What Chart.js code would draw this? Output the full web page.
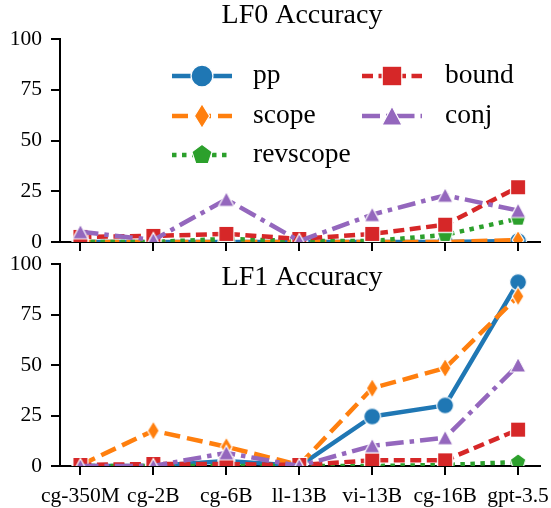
<!DOCTYPE html>
<html>
<head>
<meta charset="utf-8">
<script src="https://cdn.jsdelivr.net/npm/chart.js@4.4.0/dist/chart.umd.min.js"></script>
<style>
  body { margin: 0; background: #fff; font-family: "Liberation Serif", serif; }
  #wrap { position: relative; width: 551px; height: 508px; }
  canvas { position: absolute; left: 0; }
</style>
</head>
<body>
<div id="wrap">
  <canvas id="lf0" width="551" height="253" style="top:0"></canvas>
  <canvas id="lf1" width="551" height="255" style="top:253px"></canvas>
</div>
<script>
const models = ['cg-350M', 'cg-2B', 'cg-6B', 'll-13B', 'vi-13B', 'cg-16B', 'gpt-3.5'];
const yTicks = [0, 25, 50, 75, 100];
const seriesNames = ['pp', 'scope', 'revscope', 'bound', 'conj'];

// LF0 accuracy
const lf0Pp       = [0, 0, 0, 0, 0, 0, 0.5];
const lf0Scope    = [0, 0, 0, 0, 0, 0, 1];
const lf0Revscope = [0, 0, 1.5, 0.5, 0.5, 3.5, 11.5];
const lf0Bound    = [2.5, 3, 4, 1.5, 4, 8.5, 27];
const lf0Conj     = [5, 1, 21, 0.5, 13.5, 23, 15.5];

// LF1 accuracy
const lf1Pp       = [0, 0, 2.5, 0, 24.5, 30, 91];
const lf1Scope    = [0.5, 17.5, 9.5, 0.5, 38.5, 48.5, 84];
const lf1Revscope = [0, 0, 0, 0, 0, 0.5, 2];
const lf1Bound    = [0.5, 1, 1, 0.5, 2.8, 2.8, 18];
const lf1Conj     = [0, 0, 6.5, 0, 10, 14, 50];

const FONT = '"Liberation Serif", serif';

const styles = {
  pp:       { color: '#1f77b4', dash: [],            shape: 'circle' },
  scope:    { color: '#ff7f0e', dash: [16, 7],       shape: 'thinDiamond' },
  revscope: { color: '#2ca02c', dash: [4.5, 5.5],    shape: 'pentagon' },
  bound:    { color: '#d62728', dash: [11, 5.5],     shape: 'square' },
  conj:     { color: '#9467bd', dash: [18, 6, 4.5, 6], shape: 'triangle' }
};

function marker(shape, color, k) {
  const c = document.createElement('canvas');
  const size = Math.ceil(24 * k);
  c.width = c.height = size;
  const g = c.getContext('2d');
  const m = size / 2;
  g.beginPath();
  if (shape === 'circle') {
    g.arc(m, m, 7.8 * k, 0, Math.PI * 2);
  } else if (shape === 'thinDiamond') {
    g.moveTo(m, m - 8.8 * k); g.lineTo(m + 5.4 * k, m);
    g.lineTo(m, m + 8.8 * k); g.lineTo(m - 5.4 * k, m);
  } else if (shape === 'pentagon') {
    for (let i = 0; i < 5; i++) {
      const a = -Math.PI / 2 + i * 2 * Math.PI / 5;
      g.lineTo(m + Math.cos(a) * 7.6 * k, m + Math.sin(a) * 7.6 * k);
    }
  } else if (shape === 'square') {
    g.rect(m - 7 * k, m - 7 * k, 14 * k, 14 * k);
  } else if (shape === 'triangle') {
    g.moveTo(m, m - 7 * k); g.lineTo(m + 7.2 * k, m + 6.5 * k); g.lineTo(m - 7.2 * k, m + 6.5 * k);
  }
  g.closePath();
  g.fillStyle = color;
  g.fill();
  g.strokeStyle = '#fff';
  g.lineWidth = 1.2;
  g.stroke();
  return c;
}

function makeDatasets(values) {
  return seriesNames.map(function (name, i) {
    const st = styles[name];
    return {
      label: name,
      data: values[i].map(function (v, j) { return { x: j, y: v }; }),
      borderColor: st.color,
      backgroundColor: st.color,
      borderWidth: 4.5,
      borderDash: st.dash,
      borderCapStyle: 'butt',
      borderJoinStyle: 'round',
      pointStyle: marker(st.shape, st.color, 1.08),
      pointRadius: 6,
      order: seriesNames.length - i,
      clip: 0
    };
  });
}

const decor = {
  id: 'decor',
  afterDraw(chart, args, opts) {
    const ctx = chart.ctx;
    const area = chart.chartArea;
    ctx.save();
    ctx.fillStyle = '#000';
    ctx.font = '28px ' + FONT;
    ctx.textAlign = 'center';
    ctx.textBaseline = 'alphabetic';
    ctx.fillText(opts.title, (area.left + area.right) / 2 + 2, opts.titleY);

    if (opts.legend) {
      const colX = [172, 362];
      const textX = [253, 445];
      const rowY = [76, 116, 155];
      const place = [[0, 0], [0, 1], [0, 2], [1, 0], [1, 1]];
      ctx.textAlign = 'left';
      ctx.font = '27.5px ' + FONT;
      seriesNames.forEach(function (name, i) {
        const st = styles[name];
        const x0 = colX[place[i][0]];
        const y = rowY[place[i][1]];
        ctx.strokeStyle = st.color;
        ctx.lineWidth = 4.5;
        ctx.lineCap = 'butt';
        ctx.setLineDash(st.dash);
        ctx.beginPath();
        ctx.moveTo(x0, y);
        ctx.lineTo(x0 + 60, y);
        ctx.stroke();
        ctx.setLineDash([]);
        const img = marker(st.shape, st.color, 1.4);
        ctx.drawImage(img, x0 + 30 - img.width / 2, y - img.height / 2);
        ctx.fillStyle = '#000';
        ctx.fillText(name, textX[place[i][0]], y + 7);
      });
    }
    ctx.restore();
  }
};

function makeChart(id, values, opts) {
  return new Chart(document.getElementById(id), {
    type: 'line',
    data: { datasets: makeDatasets(values) },
    plugins: [decor],
    options: {
      responsive: false,
      animation: false,
      events: [],
      layout: { padding: { left: 0, right: 11, top: opts.top, bottom: 0 } },
      plugins: {
        legend: { display: false },
        tooltip: { enabled: false },
        decor: { title: opts.title, titleY: opts.titleY, legend: opts.legend }
      },
      scales: {
        x: {
          type: 'linear',
          min: -0.28,
          max: 6.3,
          afterBuildTicks: function (scale) {
            scale.ticks = models.map(function (m, i) { return { value: i }; });
          },
          afterFit: function (scale) {
            scale.height = opts.xHeight;
            scale.paddingLeft = scale.paddingRight = 0;
          },
          grid: { drawOnChartArea: false, tickLength: 9, color: '#000', lineWidth: 2 },
          border: { display: true, color: '#000', width: 2 },
          ticks: {
            display: opts.xLabels,
            padding: 8,
            color: '#000',
            font: { family: FONT, size: 21.5 },
            maxRotation: 0,
            autoSkip: false,
            callback: function (v) { return models[v]; }
          }
        },
        y: {
          min: 0,
          max: 100,
          afterBuildTicks: function (scale) {
            scale.ticks = yTicks.map(function (v) { return { value: v }; });
          },
          afterFit: function (scale) {
            scale.width = 60;
            scale.paddingTop = scale.paddingBottom = 0;
          },
          grid: { drawOnChartArea: false, tickLength: 9, color: '#000', lineWidth: 2 },
          border: { display: true, color: '#000', width: 2 },
          ticks: {
            padding: 9,
            color: '#000',
            font: { family: FONT, size: 21.5 }
          }
        }
      }
    }
  });
}

function drawAll() {
  makeChart('lf0', [lf0Pp, lf0Scope, lf0Revscope, lf0Bound, lf0Conj],
    { title: 'LF0 Accuracy', titleY: 23, top: 39, xHeight: 11, xLabels: false, legend: true });
  makeChart('lf1', [lf1Pp, lf1Scope, lf1Revscope, lf1Bound, lf1Conj],
    { title: 'LF1 Accuracy', titleY: 32, top: 11, xHeight: 42, xLabels: true, legend: false });
}

document.fonts.load('21px "Liberation Serif"').then(drawAll, drawAll);
</script>
</body>
</html>
